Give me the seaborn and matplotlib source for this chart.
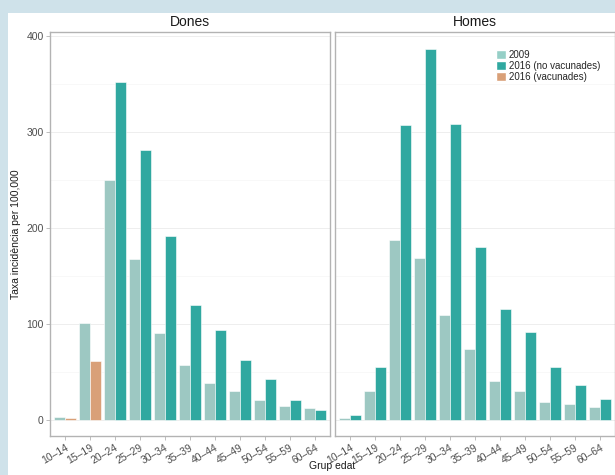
import matplotlib
matplotlib.use("Agg")
import matplotlib.pyplot as plt
from matplotlib.patches import Patch, Rectangle
from matplotlib.ticker import MultipleLocator
import seaborn as sns
import pandas as pd

grups = ["10–14", "15–19", "20–24", "25–29", "30–34", "35–39",
         "40–44", "45–49", "50–54", "55–59", "60–64"]
dones_2009 = [3, 101, 250, 167, 90, 57, 38, 30, 21, 14, 12]
dones_2016 = [2, 61, 352, 281, 191, 120, 93, 62, 42, 21, 10]
dones_vacunades = [True, True, False, False, False, False, False, False, False, False, False]
homes_2009 = [2, 30, 187, 169, 109, 74, 40, 30, 18, 16, 13]
homes_2016 = [5, 55, 307, 386, 308, 180, 115, 91, 55, 36, 22]
homes_vacunades = [False] * 11

panells = ["Dones", "Homes"]
series = ["2009", "2016 (no vacunades)", "2016 (vacunades)"]
colors = {"2009": "#96cfc7", "2016 (no vacunades)": "#30a8a0", "2016 (vacunades)": "#d9a078"}

rows = []
for sexe, v09, v16, vac in [("Dones", dones_2009, dones_2016, dones_vacunades),
                            ("Homes", homes_2009, homes_2016, homes_vacunades)]:
    for g, a, b, vv in zip(grups, v09, v16, vac):
        rows.append(dict(Sexe=sexe, Grup=g, Any="2009", Taxa=a, Serie="2009"))
        rows.append(dict(Sexe=sexe, Grup=g, Any="2016", Taxa=b,
                         Serie="2016 (vacunades)" if vv else "2016 (no vacunades)"))
df = pd.DataFrame(rows)

sns.set_theme(style="white")
plt.rcParams["font.family"] = ["Liberation Sans", "DejaVu Sans"]

W, H = 615, 475
fig = plt.figure(figsize=(W / 100, H / 100), dpi=100)
fig.patch.set_facecolor("#cfe2ea")
fig.add_artist(Rectangle((8 / W, 0), 1, 1 - 13 / H, transform=fig.transFigure,
                         facecolor="white", edgecolor="none", zorder=0))

ax_h = (436 - 32) / H
ax_b = 1 - 436 / H
ax_w = 280 / W
axes = [fig.add_axes([50 / W, ax_b, ax_w, ax_h]),
        fig.add_axes([335 / W, ax_b, ax_w, ax_h])]

for ax, sexe in zip(axes, panells):
    sub = df[df.Sexe == sexe]
    sns.barplot(data=sub, x="Grup", y="Taxa", hue="Any", hue_order=["2009", "2016"],
                order=grups, palette={"2009": colors["2009"], "2016": colors["2016 (no vacunades)"]},
                width=0.9, dodge=True, ax=ax, legend=False,
                edgecolor="white", linewidth=0.4, zorder=3)
    s16 = sub[sub.Any == "2016"].set_index("Grup").loc[grups, "Serie"].tolist()
    for patch, serie in zip(ax.containers[1], s16):
        patch.set_facecolor(colors[serie])
    ax.set_xlim(-0.6, 10.6)
    ax.set_ylim(-17, 404)
    ax.yaxis.set_major_locator(MultipleLocator(100))
    ax.yaxis.set_minor_locator(MultipleLocator(50))
    ax.grid(axis="y", which="major", color="#ebebeb", linewidth=0.6, zorder=0)
    ax.grid(axis="y", which="minor", color="#f4f4f4", linewidth=0.4, zorder=0)
    ax.grid(axis="x", visible=False)
    ax.set_axisbelow(True)
    for sp in ax.spines.values():
        sp.set_color("#b3b3b3")
        sp.set_linewidth(1.0)
    ax.set_xlabel("")
    ax.set_ylabel("")
    ax.tick_params(axis="x", bottom=True, length=3, width=0.6, color="#b3b3b3",
                   labelsize=7.5, labelcolor="#4d4d4d", pad=1.5)
    plt.setp(ax.get_xticklabels(), rotation=30, ha="right", rotation_mode="anchor")
    ax.set_title(sexe, fontsize=10, color="#1a1a1a", pad=4)

axes[0].tick_params(axis="y", which="major", left=True, length=3, width=0.6, color="#b3b3b3",
                    labelsize=7.5, labelcolor="#4d4d4d", pad=1.5)
axes[0].tick_params(axis="y", which="minor", left=False)
axes[1].tick_params(axis="y", which="both", left=False, labelleft=False)
axes[0].set_ylabel("Taxa incidència per 100,000", fontsize=7.5, color="#1a1a1a", labelpad=4)

handles = [Patch(facecolor=colors[s], edgecolor="white", label=s) for s in series]
leg = axes[1].legend(handles=handles, loc="upper left", bbox_to_anchor=(0.575, 0.955),
                     frameon=False, fontsize=7, handlelength=1.0, handleheight=1.0,
                     handletextpad=0.3, labelspacing=0.1, borderpad=0, borderaxespad=0)

fig.text(332 / W, 1 - 466 / H, "Grup edat", ha="center", va="center",
         fontsize=7.5, color="#1a1a1a")

fig.savefig("out.png", dpi=100, facecolor=fig.get_facecolor())
